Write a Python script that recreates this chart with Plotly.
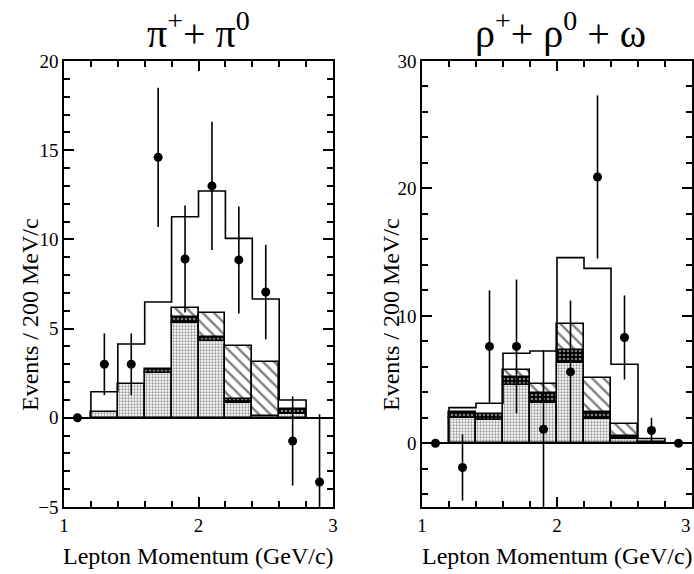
import numpy as np
import plotly.graph_objects as go

# ---- binning (GeV/c) ----
bin_edges = [1.2, 1.4, 1.6, 1.8, 2.0, 2.2, 2.4, 2.6, 2.8]
bin_centres = [1.3, 1.5, 1.7, 1.9, 2.1, 2.3, 2.5, 2.7]
point_x = [1.1, 1.3, 1.5, 1.7, 1.9, 2.1, 2.3, 2.5, 2.7, 2.9]
x_tick_vals = [1, 2, 3]
x_tick_text = ["1", "2", "3"]

# ---- pi+ + pi0 channel ----
pi_total = [1.46, 4.14, 6.49, 11.27, 12.71, 10.06, 6.66, 1.0]
pi_stipple = [0.35, 1.89, 2.53, 5.33, 4.32, 0.85, 0.10, 0.20]
pi_checker = [0.0, 0.0, 0.22, 0.34, 0.23, 0.22, 0.0, 0.30]
pi_hatch = [0.0, 0.0, 0.0, 0.50, 1.34, 2.95, 3.05, 0.0]
pi_data = [0.0, 3.0, 3.0, 14.6, 8.9, 13.0, 8.85, 7.05, -1.3, -3.6]
pi_err = [0.0, 1.73, 1.73, 3.9, 3.0, 3.6, 3.0, 2.65, 2.5, 3.8]

# ---- rho+ + rho0 + omega channel ----
rho_total = [2.80, 3.14, 7.06, 7.24, 14.57, 13.73, 6.20, 0.37]
rho_stipple = [2.00, 1.83, 4.58, 3.14, 6.33, 1.88, 0.30, 0.10]
rho_checker = [0.43, 0.47, 0.65, 0.83, 1.00, 0.60, 0.25, 0.0]
rho_hatch = [0.0, 0.0, 0.52, 0.66, 2.04, 2.67, 0.96, 0.0]
rho_data = [0.0, -1.9, 7.6, 7.6, 1.1, 5.6, 20.9, 8.3, 1.0, 0.0]
rho_err = [0.0, 2.6, 4.4, 5.25, 6.2, 5.6, 6.4, 3.3, 1.0, 0.0]

SERIF = "Liberation Serif, Times New Roman, DejaVu Serif, serif"
LW = 1.6
W, H = 694, 574

fig = go.Figure()


def add_panel(xa, ya, total, stipple, checker, hatch, data, err):
    stipple = np.array(stipple)
    checker = np.array(checker)
    hatch = np.array(hatch)
    layers = [
        (stipple, np.zeros_like(stipple),
         dict(color="white", pattern=dict(shape=".", fgcolor="#333", bgcolor="white",
                                          size=3, solidity=0.45))),
        (checker, stipple,
         dict(color="black", pattern=dict(shape=".", fgcolor="white", bgcolor="black",
                                          size=4, solidity=0.35))),
        (hatch, stipple + checker,
         dict(color="white", pattern=dict(shape="\\", fgcolor="black", bgcolor="white",
                                          size=8, solidity=0.3))),
    ]
    for h, base, mk in layers:
        hh = [v if v > 0 else None for v in h]
        mk = dict(mk)
        mk["line"] = dict(color="black", width=LW)
        fig.add_trace(go.Bar(x=bin_centres, y=hh, base=base, width=0.2, marker=mk,
                             xaxis=xa, yaxis=ya, showlegend=False))
    # outer step histogram (total expectation)
    sx = [bin_edges[0]] + bin_edges
    sy = [0] + list(total) + [0]
    fig.add_trace(go.Scatter(x=sx, y=sy, mode="lines", line=dict(shape="hv", color="black", width=LW),
                             xaxis=xa, yaxis=ya, showlegend=False))
    # data points with statistical errors
    fig.add_trace(go.Scatter(x=point_x, y=data, mode="markers",
                             marker=dict(color="black", size=9),
                             error_y=dict(type="data", array=err, width=0, thickness=LW, color="black"),
                             xaxis=xa, yaxis=ya, showlegend=False))


add_panel("x", "y", pi_total, pi_stipple, pi_checker, pi_hatch, pi_data, pi_err)
add_panel("x2", "y2", rho_total, rho_stipple, rho_checker, rho_hatch, rho_data, rho_err)

# invisible traces so the mirrored tick axes (top / right) get drawn
for xa, ya in (("x3", "y3"), ("x4", "y4")):
    fig.add_trace(go.Scatter(x=[None], y=[None], xaxis=xa, yaxis=ya, showlegend=False, hoverinfo="skip"))

tickfont = dict(family=SERIF, size=19, color="black")


def xaxis(domain, anchor, labels=True, ticktext=x_tick_text, **kw):
    d = dict(domain=domain, anchor=anchor, range=[1, 3], tickvals=x_tick_vals, ticktext=ticktext,
             ticks="inside", ticklen=10, tickwidth=LW, tickcolor="black",
             minor=dict(tickvals=[1 + 0.2 * i for i in range(11)], ticks="inside", ticklen=6,
                        tickwidth=LW, tickcolor="black"),
             showline=True, linewidth=LW, linecolor="black",
             showgrid=False, zeroline=False, tickfont=tickfont, showticklabels=labels,
             ticklabeloverflow="allow", automargin=False, fixedrange=True)
    d.update(kw)
    return d


def yaxis(domain, anchor, rng, dtick, minor, labels=True, **kw):
    d = dict(domain=domain, anchor=anchor, range=rng, dtick=dtick, tick0=0,
             ticks="inside", ticklen=10, tickwidth=LW, tickcolor="black",
             minor=dict(dtick=minor, tick0=0, ticks="inside", ticklen=6, tickwidth=LW, tickcolor="black"),
             showline=True, linewidth=LW, linecolor="black",
             showgrid=False, zeroline=labels, zerolinecolor="black", zerolinewidth=LW,
             tickfont=tickfont, showticklabels=labels, ticklabeloverflow="allow",
             automargin=False, fixedrange=True)
    d.update(kw)
    return d


ydom = [1 - 507 / H, 1 - 61 / H]
xdom1 = [64 / W, 333 / W]
xdom2 = [422 / W, 692 / W]
fig.update_layout(
    width=W, height=H,
    margin=dict(l=0, r=0, t=0, b=0),
    paper_bgcolor="white", plot_bgcolor="white",
    font=dict(family=SERIF, color="black"),
    barmode="overlay", bargap=0,
    xaxis=xaxis(xdom1, "y"),
    yaxis=yaxis(ydom, "x", [-5, 20], 5, 1),
    # last label of the right panel is set inward so it stays on the page
    xaxis2=xaxis(xdom2, "y2", ticktext=x_tick_text[:2] + [""]),
    yaxis2=yaxis(ydom, "x2", [-5, 30], 10, 2),
    # opposite-side frame edges carrying the mirrored ticks
    xaxis3=xaxis(xdom1, "y3", labels=False, overlaying="x", side="top"),
    yaxis3=yaxis(ydom, "x3", [-5, 20], 5, 1, labels=False, overlaying="y", side="right"),
    xaxis4=xaxis(xdom2, "y4", labels=False, overlaying="x2", side="top"),
    yaxis4=yaxis(ydom, "x4", [-5, 30], 10, 2, labels=False, overlaying="y2", side="right"),
)

ann = []
ann.append(dict(text=x_tick_text[-1], x=x_tick_vals[-1], xref="x2", y=1 - 525 / H, yref="paper",
                xanchor="right", yanchor="middle", xshift=1, showarrow=False, font=tickfont))
# panel titles
for cx, txt in ((198, "π<sup>+</sup>+ π<sup>0</sup>"), (560, "ρ<sup>+</sup>+ ρ<sup>0</sup> + ω")):
    ann.append(dict(text=txt, x=cx / W, y=1 - 30 / H, xref="paper", yref="paper",
                    xanchor="center", yanchor="middle", showarrow=False,
                    font=dict(family=SERIF, size=40, color="black")))
# axis titles
for cx in (198, 557):
    ann.append(dict(text="Lepton Momentum (GeV/c)", x=cx / W, y=1 - 556 / H, xref="paper", yref="paper",
                    xanchor="center", yanchor="middle", showarrow=False,
                    font=dict(family=SERIF, size=24, color="black")))
for cx in (30, 391):
    ann.append(dict(text="Events / 200 MeV/c", x=cx / W, y=1 - 315 / H, xref="paper", yref="paper",
                    xanchor="center", yanchor="middle", textangle=-90, showarrow=False,
                    font=dict(family=SERIF, size=24, color="black")))
fig.update_layout(annotations=ann)

fig.write_html("out.html")
